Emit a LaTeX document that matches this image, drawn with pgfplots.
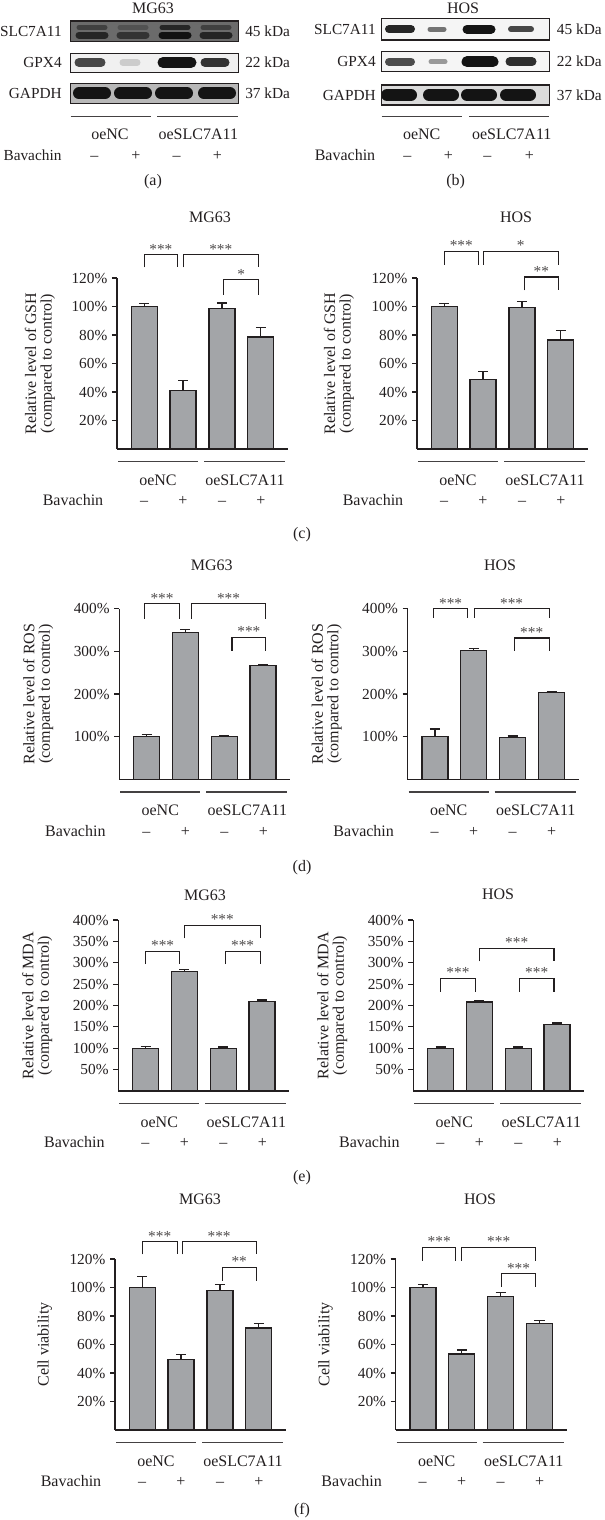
\documentclass[border=0pt]{standalone}
\usepackage{fontspec}
\setmainfont{Liberation Serif}
\usepackage{pgfplots}
\pgfplotsset{compat=1.18}
\definecolor{barc}{RGB}{163,165,168}
\definecolor{txt}{RGB}{35,31,32}
\newcommand\fs{\fontsize{11.5}{11.8}\selectfont}
\newcommand\fl{\fontsize{12}{11.6}\selectfont}
\pgfplotsset{
 barax/.style={
   scale only axis, width=128.25pt, height=128.25pt,
   xmin=0.3, xmax=4.7, ymin=0,
   axis lines*=left,
   axis line style={line width=0.85pt, txt},
   xtick=\empty,
   ytick pos=left, tick align=outside, major tick length=3.75pt,
   tick style={line width=0.85pt, color=txt},
   yticklabel={\pgfmathprintnumber{\tick}\%},
   /pgf/number format/assume math mode=true,
   tick label style={font=\fs, text=txt},
   ylabel style={font=\fl, align=center, anchor=center, text=txt},
   clip=false, anchor=south west,
 },
 bars/.style={ybar, bar shift=0pt, bar width=19.5pt, fill=barc, draw=txt, line width=0.95pt,
   error bars/.cd, y dir=plus, y explicit,
   error bar style={line width=0.9pt, txt},
   error mark options={rotate=90, mark size=3.75pt, line width=0.9pt, txt}},
 brk/.style={sharp plot, no marks, line width=0.8pt, txt, forget plot},
}
\newcommand\br[5]{%
 \addplot[brk] coordinates {(#1,#3) (#1,#4) (#2,#4) (#2,#3)};
 \path (axis cs:#1,#4) -- (axis cs:#2,#4) node[midway, anchor=base, inner sep=0pt, yshift=0.5pt, font=\fs, text=txt!80] {#5};
}
\newcommand\under[2]{%
 \draw[grp] ({#1+1},{#2+12.5}) -- ({#1+81},{#2+12.5});
 \draw[grp] ({#1+87},{#2+12.5}) -- ({#1+168},{#2+12.5});
 \node[labl, anchor=base] at ({#1+41},{#2+36}) {oeNC};
 \node[labl, anchor=base] at ({#1+128},{#2+36}) {oeSLC7A11};
 \node[labl, anchor=base] at ({#1-44},{#2+56.5}) {Bavachin};
 \node[labl, anchor=base] at ({#1+27},{#2+56.5}) {\textendash};
 \node[labl, anchor=base] at ({#1+66},{#2+56.5}) {+};
 \node[labl, anchor=base] at ({#1+105},{#2+56.5}) {\textendash};
 \node[labl, anchor=base] at ({#1+144},{#2+56.5}) {+};
}
\newcommand\band[5]{\addplot[line width=#4, line cap=round, color=#5] coordinates {#1};}
\begin{document}
\begin{tikzpicture}[x=0.75pt,y=-0.75pt, font=\fs,
  lab/.style={inner sep=0pt, text=txt, font=\fs},
  labl/.style={inner sep=0pt, text=txt, font=\fl},
  grp/.style={line width=0.9pt, txt!85}]
\useasboundingbox (0,0) rectangle (605,1520);

% ---------------- western blots (a) and (b) ----------------
\begin{axis}[at={(0,0)}, anchor=north west, scale only axis, width=453.75pt, height=150pt,
  xmin=0, xmax=605, ymin=0, ymax=200, y dir=reverse, hide axis, clip=false]
% MG63 backgrounds
\fill[black!58] (axis cs:70.7,21) rectangle (axis cs:238.3,41.7);
\fill[black!6] (axis cs:70.7,53.3) rectangle (axis cs:238.3,72.3);
\fill[black!28] (axis cs:70.7,83.3) rectangle (axis cs:238.3,103.3);
% MG63 SLC7A11
\band{(79,27.5) (105,27.5)}{}{}{3.75pt}{black!75}
\band{(79,35) (105,35)}{}{}{5.25pt}{black!85}
\band{(120,27.5) (146,27.5)}{}{}{3.75pt}{black!68}
\band{(120,35) (146,35)}{}{}{5.25pt}{black!80}
\band{(162,27.5) (188,27.5)}{}{}{3.75pt}{black!85}
\band{(162,35) (188,35)}{}{}{5.25pt}{black!93}
\band{(203,27.5) (229,27.5)}{}{}{3.75pt}{black!75}
\band{(203,35) (229,35)}{}{}{5.25pt}{black!86}
% MG63 GPX4
\band{(79,62.5) (101,62.5)}{}{}{6.75pt}{black!72}
\band{(123,62.5) (137,62.5)}{}{}{5.25pt}{black!20}
\band{(163,62.5) (191,62.5)}{}{}{8.25pt}{black!92}
\band{(205,62.5) (225,62.5)}{}{}{6.75pt}{black!80}
% MG63 GAPDH
\band{(79,93.3) (105,93.3)}{}{}{9pt}{black!92}
\band{(120,93.3) (146,93.3)}{}{}{9pt}{black!92}
\band{(161,93.3) (187,93.3)}{}{}{9pt}{black!92}
\band{(204,93.3) (230,93.3)}{}{}{9pt}{black!92}
\draw[line width=0.9pt, txt] (axis cs:70.7,21) rectangle (axis cs:238.3,41.7);
\draw[line width=0.9pt, txt] (axis cs:70.7,53.3) rectangle (axis cs:238.3,72.3);
\draw[line width=0.9pt, txt] (axis cs:70.7,83.3) rectangle (axis cs:238.3,103.3);
% HOS backgrounds
\fill[black!4] (axis cs:381.7,18.3) rectangle (axis cs:549.3,40);
\fill[black!4] (axis cs:381.7,51.7) rectangle (axis cs:549.3,71.7);
\fill[black!14] (axis cs:381.7,85) rectangle (axis cs:549.3,105);
% HOS SLC7A11
\band{(389,29.2) (411,29.2)}{}{}{6pt}{black!85}
\band{(430,29.2) (444,29.2)}{}{}{3.75pt}{black!55}
\band{(467,29.2) (491,29.2)}{}{}{6.75pt}{black!92}
\band{(511,29.2) (531,29.2)}{}{}{4.5pt}{black!72}
% HOS GPX4
\band{(389,61.7) (411,61.7)}{}{}{6pt}{black!70}
\band{(431,61.7) (445,61.7)}{}{}{3.75pt}{black!40}
\band{(467,61.7) (493,61.7)}{}{}{8.25pt}{black!92}
\band{(510,61.7) (532,61.7)}{}{}{6.75pt}{black!82}
% HOS GAPDH
\band{(387,95) (411,95)}{}{}{9pt}{black!92}
\band{(429,95) (453,95)}{}{}{9pt}{black!92}
\band{(467,95) (491,95)}{}{}{9pt}{black!92}
\band{(506,95) (530,95)}{}{}{9pt}{black!92}
\draw[line width=0.9pt, txt] (axis cs:381.7,18.3) rectangle (axis cs:549.3,40);
\draw[line width=0.9pt, txt] (axis cs:381.7,51.7) rectangle (axis cs:549.3,71.7);
\draw[line width=0.9pt, txt] (axis cs:381.7,85) rectangle (axis cs:549.3,105);
\end{axis}

% blot labels (a)
\node[labl, anchor=base] at (153,14) {MG63};
\node[lab, anchor=base east] at (62,36.7) {SLC7A11};
\node[lab, anchor=base east] at (62,67.3) {GPX4};
\node[lab, anchor=base east] at (62,98.3) {GAPDH};
\node[lab, anchor=base west] at (245,36.7) {45 kDa};
\node[lab, anchor=base west] at (245,67.3) {22 kDa};
\node[lab, anchor=base west] at (245,98.3) {37 kDa};
\draw[grp] (70.7,116.7) -- (150.7,116.7);
\draw[grp] (157.3,116.7) -- (238.3,116.7);
\node[labl, anchor=base] at (110,139) {oeNC};
\node[labl, anchor=base] at (198.3,139) {oeSLC7A11};
\node[lab, anchor=base] at (32.5,160) {Bavachin};
\node[labl, anchor=base] at (94.3,160) {\textendash};
\node[labl, anchor=base] at (136,160) {+};
\node[labl, anchor=base] at (176.7,160) {\textendash};
\node[labl, anchor=base] at (217.3,160) {+};
\node[labl, anchor=base] at (153,185) {(a)};
% blot labels (b)
\node[labl, anchor=base] at (463,14) {HOS};
\node[lab, anchor=base east] at (376,34.5) {SLC7A11};
\node[lab, anchor=base east] at (376,66.7) {GPX4};
\node[lab, anchor=base east] at (376,100) {GAPDH};
\node[lab, anchor=base west] at (556.7,34.5) {45 kDa};
\node[lab, anchor=base west] at (556.7,66.7) {22 kDa};
\node[lab, anchor=base west] at (556.7,100) {37 kDa};
\draw[grp] (381.7,116.7) -- (461.7,116.7);
\draw[grp] (469.3,116.7) -- (549.3,116.7);
\node[labl, anchor=base] at (421.7,139) {oeNC};
\node[labl, anchor=base] at (511.7,139) {oeSLC7A11};
\node[labl, anchor=base] at (345,160) {Bavachin};
\node[labl, anchor=base] at (407.3,160) {\textendash};
\node[labl, anchor=base] at (448.3,160) {+};
\node[labl, anchor=base] at (487.3,160) {\textendash};
\node[labl, anchor=base] at (529.3,160) {+};
\node[labl, anchor=base] at (455.7,185) {(b)};

% ---------------- (c) GSH ----------------
\coordinate (pC1) at (117,449);
\coordinate (pC2) at (417,449);
\begin{axis}[barax, at={(pC1)}, ymax=120, ytick={20,40,...,120},
  ylabel={Relative level of GSH\\(compared to control)},
  ylabel style={at={(axis description cs:-0.45,0.5)}}]
\addplot[bars] coordinates {(1,100) +- (0,2) (2,41) +- (0,7) (3,98.4) +- (0,4) (4,78.6) +- (0,6.7)};
\br{1}{1.86}{127.4}{136.3}{***}
\br{2}{3.94}{127.4}{136.3}{***}
\br{3.05}{3.94}{108.4}{118.8}{*}
\end{axis}
\begin{axis}[barax, at={(pC2)}, ymax=120, ytick={20,40,...,120},
  ylabel={Relative level of GSH\\(compared to control)},
  ylabel style={at={(axis description cs:-0.456,0.5)}}]
\addplot[bars] coordinates {(1,100) +- (0,2) (2,49) +- (0,5.5) (3,99.5) +- (0,4) (4,76.5) +- (0,6.8)};
\br{1}{1.88}{129.3}{138.6}{***}
\br{2}{3.94}{129.3}{138.6}{*}
\br{3.06}{3.94}{111.4}{120.7}{**}
\end{axis}
\node[labl, anchor=base] at (210,222) {MG63};
\node[labl, anchor=base] at (516,222) {HOS};
\under{117}{449}
\under{417}{449}
\node[labl, anchor=base] at (302,538) {(c)};

% ---------------- (d) ROS ----------------
\coordinate (pD1) at (119.3,779.5);
\coordinate (pD2) at (407.7,779.5);
\begin{axis}[barax, at={(pD1)}, ymax=400, ytick={100,200,300,400},
  ylabel={Relative level of ROS\\(compared to control)},
  ylabel style={at={(axis description cs:-0.474,0.5)}}]
\addplot[bars] coordinates {(1,100) +- (0,5) (2,344) +- (0,6) (3,100) +- (0,3) (4,267) +- (0,1.5)};
\br{0.95}{1.85}{376}{411}{***}
\br{2.15}{4.07}{376}{411}{***}
\br{3.2}{4.07}{301}{332}{***}
\end{axis}
\begin{axis}[barax, at={(pD2)}, ymax=400, ytick={100,200,300,400},
  ylabel={Relative level of ROS\\(compared to control)},
  ylabel style={at={(axis description cs:-0.474,0.5)}}]
\addplot[bars] coordinates {(1,100) +- (0,18) (2,301.5) +- (0,5.5) (3,99) +- (0,3) (4,204) +- (0,2)};
\br{0.97}{1.84}{378}{399}{***}
\br{2.01}{3.94}{378}{399}{***}
\br{3.04}{3.94}{301}{331}{***}
\end{axis}
\node[labl, anchor=base] at (211.7,570) {MG63};
\node[labl, anchor=base] at (500,570) {HOS};
\under{119.3}{779.5}
\under{407.7}{779.5}
\node[labl, anchor=base] at (302,871) {(d)};

% ---------------- (e) MDA ----------------
\coordinate (pE1) at (118.3,1091);
\coordinate (pE2) at (413.3,1091);
\begin{axis}[barax, at={(pE1)}, ymax=400, ytick={50,100,...,400},
  ylabel={Relative level of MDA\\(compared to control)},
  ylabel style={at={(axis description cs:-0.474,0.5)}}]
\addplot[bars] coordinates {(1,100) +- (0,4) (2,280) +- (0,4) (3,99) +- (0,4) (4,209) +- (0,4)};
\br{1}{1.88}{297}{326}{***}
\br{2}{3.95}{357}{387.6}{***}
\br{3.05}{3.95}{297}{326}{***}
\end{axis}
\begin{axis}[barax, at={(pE2)}, ymax=400, ytick={50,100,...,400},
  ylabel={Relative level of MDA\\(compared to control)},
  ylabel style={at={(axis description cs:-0.474,0.5)}}]
\addplot[bars] coordinates {(1,100) +- (0,3) (2,208.5) +- (0,3) (3,100) +- (0,3) (4,156) +- (0,3)};
\br{1}{1.9}{232.6}{263.6}{***}
\br{2}{3.92}{303}{333}{***}
\br{3.03}{3.92}{232.6}{263.6}{***}
\end{axis}
\node[labl, anchor=base] at (205,900) {MG63};
\node[labl, anchor=base] at (498,899) {HOS};
\under{118.3}{1091}
\under{413.3}{1091}
\node[labl, anchor=base] at (302,1181) {(e)};

% ---------------- (f) viability ----------------
\coordinate (pF1) at (115,1430);
\coordinate (pF2) at (395.7,1430);
\begin{axis}[barax, at={(pF1)}, ymax=120, ytick={20,40,...,120},
  ylabel={Cell viability},
  ylabel style={at={(axis description cs:-0.41,0.5)}}]
\addplot[bars] coordinates {(1,100) +- (0,8) (2,49.5) +- (0,3.5) (3,98) +- (0,4) (4,71.6) +- (0,3)};
\br{1}{1.9}{123.3}{132}{***}
\br{2.03}{3.93}{123.3}{132}{***}
\br{3.06}{3.93}{104.8}{114}{**}
\end{axis}
\begin{axis}[barax, at={(pF2)}, ymax=120, ytick={20,40,...,120},
  ylabel={Cell viability},
  ylabel style={at={(axis description cs:-0.41,0.5)}}]
\addplot[bars] coordinates {(1,100) +- (0,2) (2,53.3) +- (0,2.8) (3,93.8) +- (0,2.8) (4,74.6) +- (0,2.3)};
\br{1}{1.84}{118.7}{128}{***}
\br{2}{3.9}{118.7}{128}{***}
\br{3.02}{3.9}{100.5}{109.7}{***}
\end{axis}
\node[labl, anchor=base] at (200,1204) {MG63};
\node[labl, anchor=base] at (480,1204) {HOS};
\under{115}{1430}
\under{395.7}{1430}
\node[labl, anchor=base] at (302,1514) {(f)};
\end{tikzpicture}
\end{document}
